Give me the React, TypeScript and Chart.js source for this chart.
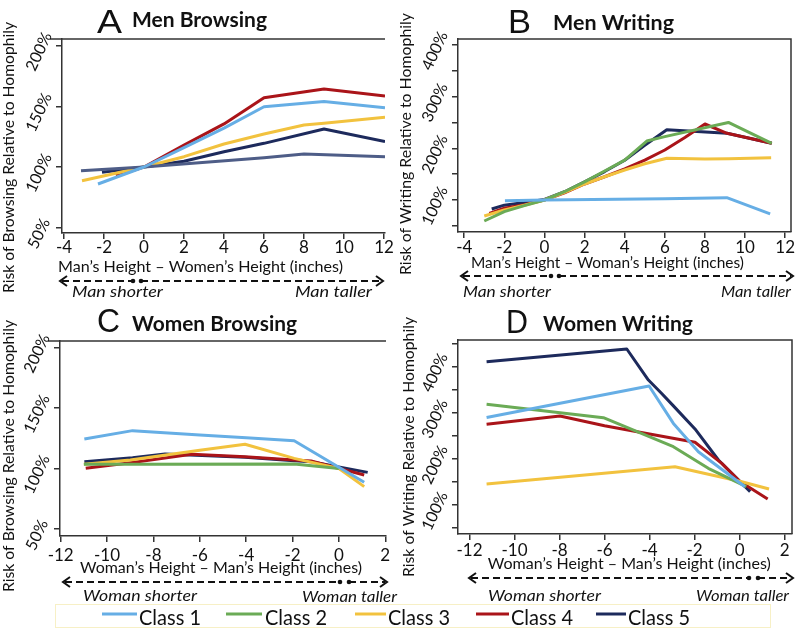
import React, { useEffect, useRef } from "react";
import { Chart, registerables } from "chart.js";
Chart.register(...registerables);

const W = 796;
const H = 630;
const TICK = 6;
const AXIS = "#333333";
const FONT = "Lato, 'Open Sans', sans-serif";

const CLASS_LABELS = ["Class 1", "Class 2", "Class 3", "Class 4", "Class 5"];
const CLASS_COLORS = ["#66aee5", "#6bab56", "#f2c23e", "#aa1419", "#1d2a5c"];
const A_CLASS2_COLOR = "#4e5d87";

// ---------- Panel A: Men Browsing ----------
const A_X_TICKS = [-4, -2, 0, 2, 4, 6, 8, 10, 12];
const A_Y_TICKS = [50, 100, 150, 200];
const A_Y_LABELED = [50, 100, 150, 200];
const A_C1_X = [-2.3, 0, 2, 4, 6, 9, 12.05];
const A_C1_Y = [86, 100, 116, 132, 149.7, 153.9, 148.9];
const A_C2_X = [-3.15, 0, 6, 8, 12.05];
const A_C2_Y = [97, 100, 107.7, 110.7, 108.5];
const A_C3_X = [-3.1, 0, 2, 4, 6, 8, 9, 12.05];
const A_C3_Y = [88.7, 100, 108.5, 119, 127.2, 134.6, 136, 141];
const A_C4_X = [-1.4, 0, 2, 4, 6, 9, 12.05];
const A_C4_Y = [92.8, 100, 118, 135.5, 157.1, 164.3, 158.5];
const A_C5_X = [-2.1, 0, 2, 4, 6, 9, 12.05];
const A_C5_Y = [95.6, 100, 104.7, 112.6, 119.5, 131.3, 120.9];

// ---------- Panel B: Men Writing ----------
const B_X_TICKS = [-4, -2, 0, 2, 4, 6, 8, 10, 12];
const B_Y_TICKS = [50, 100, 150, 200, 250, 300, 350, 400];
const B_Y_LABELED = [100, 200, 300, 400];
const B_C1_X = [-1.97, 0, 6, 9.09, 11.25];
const B_C1_Y = [98.7, 100, 102.5, 104.5, 73];
const B_C2_X = [-3, -2, -1, 0, 1, 2, 3, 4, 5.1, 6, 9.17, 11.33];
const B_C2_Y = [59.4, 77.5, 89, 100, 116, 135, 156, 177, 214, 222.5, 250, 209.7];
const B_C3_X = [-3, -2, -1, 0, 1, 2, 3, 4, 5, 6.1, 8, 9.2, 11.3];
const B_C3_Y = [69, 80.7, 90, 100, 115, 131, 145, 158, 170, 180.6, 179.5, 180, 181.8];
const B_C4_X = [-2.75, -2, -1, 0, 1, 2, 3, 4, 5, 6, 7, 8, 9.1, 11.33];
const B_C4_Y = [74.2, 84, 91, 100, 114, 131, 145, 160, 177, 196.7, 221, 247, 229, 209.7];
const B_C5_X = [-2.63, -2, -1, 0, 1, 2, 3, 4, 5, 6.1, 9.1, 11.33];
const B_C5_Y = [82.6, 90, 95, 101, 116, 135, 155, 177, 206, 236, 229, 209.7];

// ---------- Panel C: Women Browsing ----------
const C_X_TICKS = [-12, -10, -8, -6, -4, -2, 0, 2];
const C_Y_TICKS = [50, 100, 150, 200];
const C_Y_LABELED = [50, 100, 150, 200];
const C_C1_X = [-10.98, -8.9, -6, -4, -1.93, 1.09];
const C_C1_Y = [124.4, 131.3, 127.7, 125.5, 123, 88.6];
const C_C2_X = [-11, -8.9, -1.93, 0];
const C_C2_Y = [103.5, 103.5, 103.7, 100];
const C_C3_X = [-11, -9, -6, -4.05, -1.93, 0, 1.09];
const C_C3_Y = [103.5, 107, 115, 120, 108.4, 100, 85];
const C_C4_X = [-10.92, -8.9, -6.35, -4.05, -1.93, -1.2, 1.09];
const C_C4_Y = [100.2, 105, 111.7, 109.8, 107, 106.2, 94.6];
const C_C5_X = [-10.98, -8.9, -7.5, -4.05, -1.93, -1.2, 1.24];
const C_C5_Y = [105.6, 108.9, 112, 109.2, 106.4, 105.6, 96.8];

// ---------- Panel D: Women Writing ----------
const D_X_TICKS = [-12, -10, -8, -6, -4, -2, 0, 2];
const D_Y_TICKS = [50, 100, 150, 200, 250, 300, 350, 400, 450];
const D_Y_LABELED = [100, 200, 300, 400];
const D_C1_X = [-11.24, -4.02, -2.94, -1.83, 0.24];
const D_C1_Y = [290, 358, 277, 215.6, 139.7];
const D_C2_X = [-11.24, -6.05, -2.94, -1.39, 0.3];
const D_C2_Y = [318.4, 289.4, 226.5, 179.6, 140];
const D_C3_X = [-11.24, -2.87, 0.1, 1.31];
const D_C3_Y = [145.6, 183, 150.5, 134.7];
const D_C4_X = [-11.24, -7.98, -6, -4, -1.98, -0.79, 0.02, 1.25];
const D_C4_Y = [275, 293, 272, 254, 236, 190.4, 151, 113];
const D_C5_X = [-11.24, -5.01, -4.05, -3.46, -2.94, -1.98, -0.94, 0.47];
const D_C5_Y = [410.9, 438.4, 371, 342, 315, 265, 197.6, 128.9];

type Txt = { s: string; x: number; y: number; w: number };
type Panel = {
  id: string;
  area: { l: number; t: number; r: number; b: number };
  xMin: number; xMax: number; yMin: number; yMax: number;
  xTicks: number[]; yTicks: number[]; yLabeled: number[];
  xs: number[][]; ys: number[][]; colors: string[];
  box: boolean;
  letter: Txt; title: Txt; yTitle: Txt; xTitle: Txt; xTickY: number;
  arrow: { x0: number; x1: number; y: number; d0: number; d1: number };
  leftNote: Txt; rightNote: Txt;
};

const PANELS: Panel[] = [
  {
    id: "A", area: { l: 62, t: 39, r: 385, b: 233 },
    xMin: -4.1, xMax: 12.05, yMin: 45.6, yMax: 205.5,
    xTicks: A_X_TICKS, yTicks: A_Y_TICKS, yLabeled: A_Y_LABELED,
    xs: [A_C1_X, A_C2_X, A_C3_X, A_C4_X, A_C5_X],
    ys: [A_C1_Y, A_C2_Y, A_C3_Y, A_C4_Y, A_C5_Y],
    colors: [CLASS_COLORS[0], A_CLASS2_COLOR, CLASS_COLORS[2], CLASS_COLORS[3], CLASS_COLORS[4]],
    box: false,
    letter: { s: "A", x: 97, y: 33, w: 25 },
    title: { s: "Men Browsing", x: 132, y: 27, w: 135 },
    yTitle: { s: "Risk of Browsing Relative to Homophily", x: 9, y: 157.5, w: 271 },
    xTitle: { s: "Man\u2019s Height \u2013 Women\u2019s Height (inches)", x: 200.5, y: 272, w: 285 },
    xTickY: 253,
    arrow: { x0: 60, x1: 383, y: 281, d0: 133, d1: 141 },
    leftNote: { s: "Man shorter", x: 117.5, y: 297, w: 91 },
    rightNote: { s: "Man taller", x: 333.5, y: 297, w: 77 },
  },
  {
    id: "B", area: { l: 458, t: 39, r: 791, b: 232 },
    xMin: -4.31, xMax: 12.29, yMin: 38.1, yMax: 411.4,
    xTicks: B_X_TICKS, yTicks: B_Y_TICKS, yLabeled: B_Y_LABELED,
    xs: [B_C1_X, B_C2_X, B_C3_X, B_C4_X, B_C5_X],
    ys: [B_C1_Y, B_C2_Y, B_C3_Y, B_C4_Y, B_C5_Y],
    colors: CLASS_COLORS,
    box: true,
    letter: { s: "B", x: 508, y: 33, w: 23 },
    title: { s: "Men Writing", x: 553, y: 30, w: 121 },
    yTitle: { s: "Risk of Writing Relative to Homophily", x: 406, y: 144, w: 262 },
    xTitle: { s: "Man\u2019s Height \u2013 Woman\u2019s Height (inches)", x: 607.5, y: 268, w: 273 },
    xTickY: 253,
    arrow: { x0: 461, x1: 793, y: 276, d0: 551, d1: 559 },
    leftNote: { s: "Man shorter", x: 507, y: 297, w: 88 },
    rightNote: { s: "Man taller", x: 756, y: 297, w: 70 },
  },
  {
    id: "C", area: { l: 60, t: 341, r: 386, b: 536 },
    xMin: -12.03, xMax: 2.03, yMin: 44.2, yMax: 205.4,
    xTicks: C_X_TICKS, yTicks: C_Y_TICKS, yLabeled: C_Y_LABELED,
    xs: [C_C1_X, C_C2_X, C_C3_X, C_C4_X, C_C5_X],
    ys: [C_C1_Y, C_C2_Y, C_C3_Y, C_C4_Y, C_C5_Y],
    colors: CLASS_COLORS,
    box: false,
    letter: { s: "C", x: 97, y: 332, w: 23 },
    title: { s: "Women Browsing", x: 132, y: 331, w: 165 },
    yTitle: { s: "Risk of Browsing Relative to Homophily", x: 9, y: 456, w: 272 },
    xTitle: { s: "Woman\u2019s Height \u2013 Man\u2019s Height (inches)", x: 221, y: 573, w: 282 },
    xTickY: 561,
    arrow: { x0: 63, x1: 387, y: 582, d0: 340, d1: 349 },
    leftNote: { s: "Woman shorter", x: 140, y: 601, w: 114 },
    rightNote: { s: "Woman taller", x: 349.5, y: 602, w: 95 },
  },
  {
    id: "D", area: { l: 458, t: 340, r: 792, b: 534 },
    xMin: -12.51, xMax: 2.33, yMin: 37.1, yMax: 457.9,
    xTicks: D_X_TICKS, yTicks: D_Y_TICKS, yLabeled: D_Y_LABELED,
    xs: [D_C1_X, D_C2_X, D_C3_X, D_C4_X, D_C5_X],
    ys: [D_C1_Y, D_C2_Y, D_C3_Y, D_C4_Y, D_C5_Y],
    colors: CLASS_COLORS,
    box: true,
    letter: { s: "D", x: 506, y: 333, w: 22 },
    title: { s: "Women Writing", x: 543, y: 331, w: 150 },
    yTitle: { s: "Risk of Writing Relative to Homophily", x: 409, y: 447, w: 260 },
    xTitle: { s: "Woman\u2019s Height \u2013 Man\u2019s Height (inches)", x: 629.3, y: 569, w: 283 },
    xTickY: 556,
    arrow: { x0: 469, x1: 793, y: 578, d0: 749, d1: 758 },
    leftNote: { s: "Woman shorter", x: 544.5, y: 601, w: 113 },
    rightNote: { s: "Woman taller", x: 742.5, y: 601, w: 93 },
  },
];

// legend layout (line sample start/end, text left)
const LEGEND_LINES = [[102, 137], [226, 262], [355, 386], [476, 509], [596, 626]];
const LEGEND_TEXT_X = [139, 265, 388, 511, 628];

type TOpt = {
  size: number; width?: number; weight?: string; italic?: boolean; family?: string;
  align?: CanvasTextAlign; baseline?: CanvasTextBaseline; rot?: number; color?: string;
};

function txt(ctx: CanvasRenderingContext2D, s: string, x: number, y: number, o: TOpt) {
  ctx.save();
  ctx.font = `${o.italic ? "italic " : ""}${o.weight || "normal"} ${o.size}px ${o.family || FONT}`;
  ctx.fillStyle = o.color || "#111111";
  ctx.textAlign = o.align || "center";
  ctx.textBaseline = o.baseline || "alphabetic";
  ctx.translate(x, y);
  if (o.rot) ctx.rotate(o.rot);
  if (o.width) {
    const m = ctx.measureText(s).width;
    if (m > 0) ctx.scale(o.width / m, 1);
  }
  ctx.fillText(s, 0, 0);
  ctx.restore();
}

function drawArrow(ctx: CanvasRenderingContext2D, a: Panel["arrow"]) {
  const { x0, x1, y, d0, d1 } = a;
  ctx.save();
  ctx.strokeStyle = "#111111";
  ctx.fillStyle = "#111111";
  ctx.lineWidth = 2;
  ctx.setLineDash([7, 4]);
  ctx.beginPath();
  ctx.moveTo(x0 + 2, y);
  ctx.lineTo(d0, y);
  ctx.stroke();
  ctx.beginPath();
  ctx.moveTo(d1, y);
  ctx.lineTo(x1 - 2, y);
  ctx.stroke();
  ctx.setLineDash([]);
  ctx.beginPath();
  ctx.moveTo(x0 + 7, y - 5);
  ctx.lineTo(x0, y);
  ctx.lineTo(x0 + 7, y + 5);
  ctx.stroke();
  ctx.beginPath();
  ctx.moveTo(x1 - 7, y - 5);
  ctx.lineTo(x1, y);
  ctx.lineTo(x1 - 7, y + 5);
  ctx.stroke();
  for (const d of [d0, d1]) {
    ctx.beginPath();
    ctx.arc(d, y, 2.3, 0, Math.PI * 2);
    ctx.fill();
  }
  ctx.restore();
}

function makeDecor(p: Panel, withLegend: boolean) {
  return {
    id: "decor" + p.id,
    afterDraw(chart: any) {
      const ctx: CanvasRenderingContext2D = chart.ctx;
      const a = chart.chartArea;
      const xs = chart.scales.x;
      const ys = chart.scales.y;

      // frame lines
      ctx.save();
      ctx.strokeStyle = AXIS;
      ctx.lineWidth = 1.5;
      ctx.beginPath();
      if (p.box) {
        ctx.moveTo(a.left, a.top);
        ctx.lineTo(a.right, a.top);
        ctx.lineTo(a.right, a.bottom);
      } else {
        ctx.moveTo(a.left - 12, a.top);
        ctx.lineTo(a.right, a.top);
      }
      ctx.stroke();
      ctx.restore();

      // tick labels
      for (const v of p.xTicks) {
        txt(ctx, String(v), xs.getPixelForValue(v), p.xTickY, { size: 17 });
      }
      for (const v of p.yLabeled) {
        txt(ctx, v + "%", a.left - 23, ys.getPixelForValue(v) + 6, {
          size: 16, baseline: "middle", rot: (-65 * Math.PI) / 180,
        });
      }

      // titles
      txt(ctx, p.letter.s, p.letter.x, p.letter.y, {
        size: 33, width: p.letter.w, align: "left", family: "'Liberation Sans', Arial, sans-serif",
      });
      txt(ctx, p.title.s, p.title.x, p.title.y, { size: 20, weight: "bold", width: p.title.w, align: "left" });
      txt(ctx, p.yTitle.s, p.yTitle.x, p.yTitle.y, {
        size: 15, width: p.yTitle.w, baseline: "middle", rot: -Math.PI / 2,
      });
      txt(ctx, p.xTitle.s, p.xTitle.x, p.xTitle.y, { size: 16, width: p.xTitle.w });

      drawArrow(ctx, p.arrow);
      txt(ctx, p.leftNote.s, p.leftNote.x, p.leftNote.y, { size: 15, italic: true, width: p.leftNote.w });
      txt(ctx, p.rightNote.s, p.rightNote.x, p.rightNote.y, { size: 15, italic: true, width: p.rightNote.w });

      if (withLegend) {
        ctx.save();
        ctx.strokeStyle = "#f7f0c6";
        ctx.lineWidth = 1;
        ctx.strokeRect(55.5, 604.5, 715, 23);
        ctx.restore();
        CLASS_LABELS.forEach((lab, i) => {
          ctx.save();
          ctx.strokeStyle = CLASS_COLORS[i];
          ctx.lineWidth = 3;
          ctx.beginPath();
          ctx.moveTo(LEGEND_LINES[i][0], 614);
          ctx.lineTo(LEGEND_LINES[i][1], 614);
          ctx.stroke();
          ctx.restore();
          txt(ctx, lab, LEGEND_TEXT_X[i], 625, { size: 21, width: 62, align: "left" });
        });
      }
    },
  };
}

function makeConfig(p: Panel, withLegend: boolean): any {
  const datasets = CLASS_LABELS.map((label, i) => ({
    label,
    data: p.xs[i].map((x, j) => ({ x, y: p.ys[i][j] })),
    borderColor: p.colors[i],
    backgroundColor: p.colors[i],
    borderWidth: 3,
    pointRadius: 0,
    fill: false,
    tension: 0,
    borderJoinStyle: "round",
    borderCapStyle: "butt",
  }));
  const axisCommon = {
    type: "linear",
    ticks: { display: false },
    grid: { drawOnChartArea: false, drawTicks: true, tickLength: TICK, color: AXIS, lineWidth: 1.5 },
    border: { display: true, color: AXIS, width: 1.5 },
  };
  return {
    type: "line",
    data: { datasets },
    options: {
      responsive: false,
      maintainAspectRatio: false,
      animation: false,
      devicePixelRatio: 1,
      events: [],
      layout: {
        padding: {
          left: p.area.l - TICK,
          top: p.area.t,
          right: W - p.area.r,
          bottom: H - p.area.b - TICK,
        },
      },
      plugins: { legend: { display: false }, tooltip: { enabled: false }, title: { display: false } },
      scales: {
        x: {
          ...axisCommon,
          position: "bottom",
          min: p.xMin,
          max: p.xMax,
          afterBuildTicks: (sc: any) => { sc.ticks = p.xTicks.map((v) => ({ value: v })); },
          afterFit: (sc: any) => { sc.height = TICK; sc.paddingLeft = 0; sc.paddingRight = 0; },
        },
        y: {
          ...axisCommon,
          position: "left",
          min: p.yMin,
          max: p.yMax,
          afterBuildTicks: (sc: any) => { sc.ticks = p.yTicks.map((v) => ({ value: v })); },
          afterFit: (sc: any) => { sc.width = TICK; sc.paddingTop = 0; sc.paddingBottom = 0; },
        },
      },
    },
    plugins: [makeDecor(p, withLegend)],
  };
}

export default function App() {
  const r0 = useRef<HTMLCanvasElement | null>(null);
  const r1 = useRef<HTMLCanvasElement | null>(null);
  const r2 = useRef<HTMLCanvasElement | null>(null);
  const r3 = useRef<HTMLCanvasElement | null>(null);
  const refs = [r0, r1, r2, r3];

  useEffect(() => {
    const charts = PANELS.map((p, i) => new Chart(refs[i].current as HTMLCanvasElement, makeConfig(p, i === 0)));
    return () => charts.forEach((c) => c.destroy());
  }, []);

  return (
    <div style={{ position: "absolute", left: 0, top: 0, width: W, height: H, background: "#ffffff", overflow: "hidden" }}>
      {PANELS.map((p, i) => (
        <canvas
          key={p.id}
          ref={refs[i]}
          width={W}
          height={H}
          style={{ position: "absolute", left: 0, top: 0, width: W, height: H }}
        />
      ))}
    </div>
  );
}
